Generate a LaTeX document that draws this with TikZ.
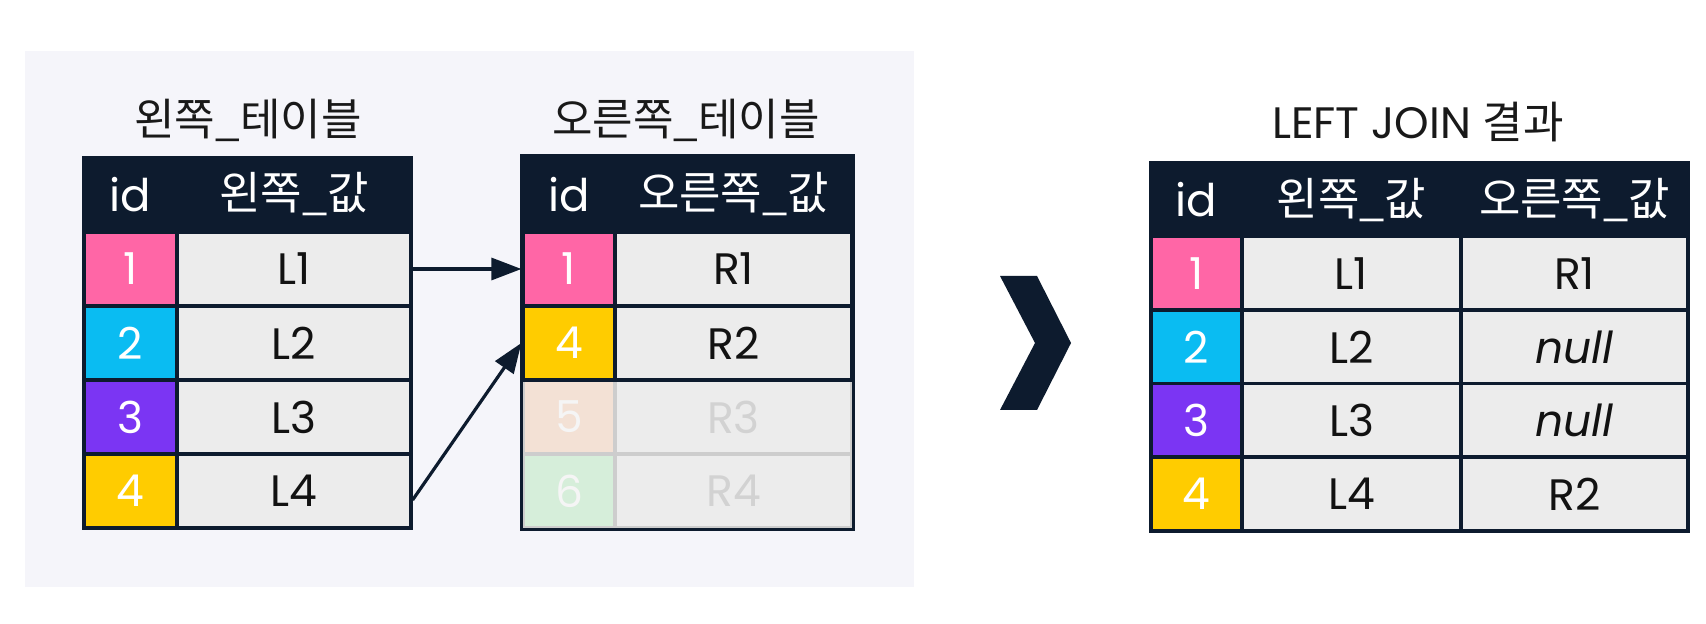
\documentclass[tikz,border=0pt]{standalone}
\usepackage{fontspec}
\setmainfont{Poppins}
\newfontfamily\kr{Noto Sans CJK KR}
\usetikzlibrary{arrows.meta}
\definecolor{navy}{HTML}{0D1B2E}
\definecolor{panelbg}{HTML}{F5F5FA}
\definecolor{cellbg}{HTML}{ECECEC}
\definecolor{cpink}{HTML}{FF66A6}
\definecolor{ccyan}{HTML}{0ABCF2}
\definecolor{cpurple}{HTML}{7B35F3}
\definecolor{cyellow}{HTML}{FFCC00}
\definecolor{cpeach}{HTML}{F3E1D5}
\definecolor{cmint}{HTML}{D6EEDA}
\definecolor{fadeline}{HTML}{CDCDCD}
\definecolor{fadetext}{HTML}{D2D2D2}
\tikzset{
  cellbox/.style={draw=navy, line width=1.6pt, inner sep=0pt, minimum height=37pt,
    font=\fontsize{22pt}{26pt}\selectfont, text=black!93},
  headbox/.style={cellbox, fill=navy, text=white, font=\fontsize{22.5pt}{26pt}\selectfont},
  idbox/.style={cellbox, text=white},
  valbox/.style={cellbox, fill=cellbg},
  fadebox/.style={cellbox, draw=fadeline},
  titletext/.style={font=\fontsize{22pt}{26pt}\selectfont, text=black!90},
  linkarrow/.style={draw=navy, line width=1.6pt, -{Triangle[length=15pt,width=11pt]}},
}
\begin{document}
\begin{tikzpicture}[x=0.5pt,y=-0.5pt]
\useasboundingbox (0,0) rectangle (1706,624);
\fill[white] (0,0) rectangle (1706,624);
\fill[panelbg] (25,51) rectangle (914,587);

% ---------- left table ----------
\node[titletext] (ltitle) at (248,120) {\kr 왼쪽\_테이블};
\node[headbox, minimum width=46.5pt] (lhid) at (130.5,194.5) {id};
\node[headbox, minimum width=117pt] (lhval) at (294,194.5) {\kr 왼쪽\_값};
\node[idbox, fill=cpink, minimum width=46.5pt] (l1id) at (130.5,269) {1};
\node[valbox, minimum width=117pt] (l1v) at (294,269) {L1};
\node[idbox, fill=ccyan, minimum width=46.5pt] (l2id) at (130.5,343) {2};
\node[valbox, minimum width=117pt] (l2v) at (294,343) {L2};
\node[idbox, fill=cpurple, minimum width=46.5pt] (l3id) at (130.5,417) {3};
\node[valbox, minimum width=117pt] (l3v) at (294,417) {L3};
\node[idbox, fill=cyellow, minimum width=46.5pt] (l4id) at (130.5,491) {4};
\node[valbox, minimum width=117pt] (l4v) at (294,491) {L4};

% ---------- right table ----------
\node[titletext] (rtitle) at (686,120) {\kr 오른쪽\_테이블};
\node[fadebox, fill=cpeach, text=white!96!black, minimum width=46pt] (r5id) at (569,417) {5};
\node[fadebox, fill=cellbg, text=fadetext, minimum width=118.5pt] (r5v) at (733.5,417) {R3};
\node[fadebox, fill=cmint, text=white!96!black, minimum width=46pt] (r6id) at (569,491) {6};
\node[fadebox, fill=cellbg, text=fadetext, minimum width=118.5pt] (r6v) at (733.5,491) {R4};
\node[headbox, minimum width=46pt] (rhid) at (569,194.5) {id};
\node[headbox, minimum width=118.5pt] (rhval) at (733.5,194.5) {\kr 오른쪽\_값};
\node[idbox, fill=cpink, minimum width=46pt] (r1id) at (569,269) {1};
\node[valbox, minimum width=118.5pt] (r1v) at (733.5,269) {R1};
\node[idbox, fill=cyellow, minimum width=46pt] (r4id) at (569,343) {4};
\node[valbox, minimum width=118.5pt] (r4v) at (733.5,343) {R2};
\draw[navy, line width=1.6pt] (rhid.north west) rectangle (r6v.south east);

% ---------- connectors ----------
\draw[linkarrow] (l1v.east) -- (r1id.west);
\draw[linkarrow] ([yshift=-4.5pt]l4v.east) -- (r4id.west);

% ---------- chevron ----------
\fill[navy] (1000,276) -- (1037,276) -- (1071,343) -- (1037,410) -- (1000,410) -- (1035,343) -- cycle;

% ---------- result table ----------
\node[titletext] (jtitle) at (1418,122) {LEFT JOIN {\kr 결과}};
\node[headbox, minimum width=45.5pt] (jhid) at (1196.5,200) {id};
\node[headbox, minimum width=109.5pt] (jhl) at (1351.5,200) {\kr 왼쪽\_값};
\node[headbox, minimum width=113.5pt] (jhr) at (1574.5,200) {\kr 오른쪽\_값};
\node[idbox, fill=cpink, minimum width=45.5pt] (j1id) at (1196.5,273.5) {1};
\node[valbox, minimum width=109.5pt] (j1l) at (1351.5,273.5) {L1};
\node[valbox, minimum width=113.5pt] (j1r) at (1574.5,273.5) {R1};
\node[idbox, fill=ccyan, minimum width=45.5pt] (j2id) at (1196.5,347) {2};
\node[valbox, minimum width=109.5pt] (j2l) at (1351.5,347) {L2};
\node[valbox, minimum width=113.5pt] (j2r) at (1574.5,347) {\itshape null};
\node[idbox, fill=cpurple, minimum width=45.5pt] (j3id) at (1196.5,420.5) {3};
\node[valbox, minimum width=109.5pt] (j3l) at (1351.5,420.5) {L3};
\node[valbox, minimum width=113.5pt] (j3r) at (1574.5,420.5) {\itshape null};
\node[idbox, fill=cyellow, minimum width=45.5pt] (j4id) at (1196.5,494) {4};
\node[valbox, minimum width=109.5pt] (j4l) at (1351.5,494) {L4};
\node[valbox, minimum width=113.5pt] (j4r) at (1574.5,494) {R2};
\end{tikzpicture}
\end{document}
